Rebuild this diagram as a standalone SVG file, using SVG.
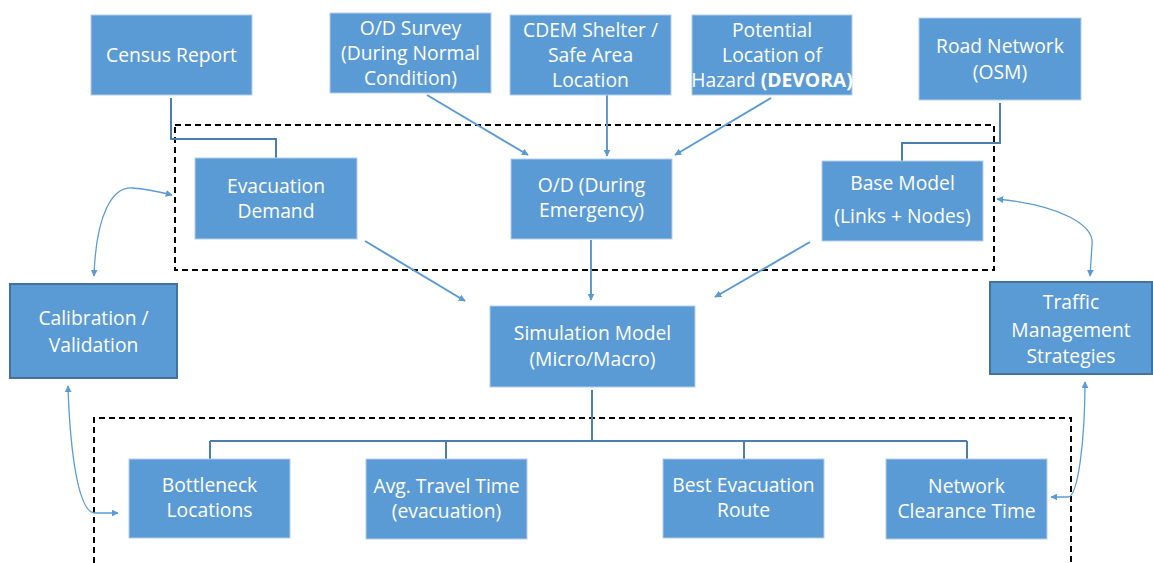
<svg xmlns="http://www.w3.org/2000/svg" width="1153" height="563" viewBox="0 0 1153 563">
<defs>
<style>
.box{fill:#5B9BD5;stroke:#B4CDEA;stroke-width:1}
.box2{fill:#5B9BD5;stroke:#41719C;stroke-width:2}
text{font-family:"Open Sans","Liberation Sans",sans-serif;font-size:19.3px;fill:#FFFFFF;text-anchor:middle}
.dash{fill:none;stroke:#000;stroke-width:2;stroke-dasharray:6 4}
.elb{fill:none;stroke:#4A7EB0;stroke-width:2}
.arr{fill:none;stroke:#5B9BD5;stroke-width:2;marker-end:url(#ah)}
.cur{fill:none;stroke:#5B9BD5;stroke-width:1.3;marker-start:url(#ahs);marker-end:url(#ah)}
</style>
<marker id="ah" viewBox="0 0 10 10" refX="9" refY="5" markerWidth="7" markerHeight="7" markerUnits="userSpaceOnUse" orient="auto"><path d="M0,0 L10,5 L0,10 z" fill="#5B9BD5"/></marker>
<marker id="ahs" viewBox="0 0 10 10" refX="1" refY="5" markerWidth="7" markerHeight="7" markerUnits="userSpaceOnUse" orient="auto"><path d="M10,0 L0,5 L10,10 z" fill="#5B9BD5"/></marker>
</defs>
<rect width="1153" height="563" fill="#FFFFFF"/>
<g id="groups">
<rect class="dash" x="175" y="125" width="819" height="145"/>
<path class="dash" d="M94,563 L94,418 L1071,418 L1071,563"/>
</g>
<g id="connectors">
<path class="elb" d="M171,98 L171,139 L276,139 L276,158"/>
<path class="elb" d="M1000,103 L1000,143 L902,143 L902,161"/>
<path class="elb" d="M592,390 L592,441 M210,441 L967,441 M210,441 L210,459 M446,441 L446,459 M744,441 L744,459 M967,441 L967,459"/>
<path class="arr" d="M427,95 L528,155"/>
<path class="arr" d="M607,95 L607,156"/>
<path class="arr" d="M771,98 L675,155"/>
<path class="arr" d="M365,241 L465,301"/>
<path class="arr" d="M591,240 L591,300"/>
<path class="arr" d="M810,242 L715,297"/>
<path class="cur" d="M94,276 C96,215 112,187 132,188 C148,189 160,192 172,195"/>
<path class="cur" d="M68,386 C70,450 78,513 95,513 L118,513"/>
<path class="cur" d="M997,199 C1060,205 1095,225 1092,245 L1090,276"/>
<path class="cur" d="M1085,382 C1085,440 1078,497 1068,497 L1051,497"/>
</g>
<g id="census"><rect class="box" x="91" y="15" width="161" height="80"/><text x="171.5" y="62">Census Report</text></g>
<g id="odsurvey"><rect class="box" x="330" y="13" width="161" height="80"/><text x="410.5" y="35">O/D Survey</text><text x="410.5" y="60">(During Normal</text><text x="410.5" y="85">Condition)</text></g>
<g id="cdem"><rect class="box" x="510" y="15" width="161" height="80"/><text x="590.5" y="37">CDEM Shelter /</text><text x="590.5" y="62">Safe Area</text><text x="590.5" y="87">Location</text></g>
<g id="hazard"><rect class="box" x="692" y="15" width="160" height="80"/><text x="772" y="37">Potential</text><text x="772" y="62">Location of</text><text x="772" y="87">Hazard <tspan font-weight="bold">(DEVORA)</tspan></text></g>
<g id="road"><rect class="box" x="919" y="18" width="162" height="82"/><text x="1000" y="53">Road Network</text><text x="1000" y="79">(OSM)</text></g>
<g id="evacdemand"><rect class="box" x="195" y="158" width="162" height="81"/><text x="276" y="193">Evacuation</text><text x="276" y="218">Demand</text></g>
<g id="odemergency"><rect class="box" x="511" y="159" width="161" height="80"/><text x="591.5" y="192">O/D (During</text><text x="591.5" y="217">Emergency)</text></g>
<g id="basemodel"><rect class="box" x="822" y="161" width="161" height="80"/><text x="902.5" y="190">Base Model</text><text x="902.5" y="223">(Links + Nodes)</text></g>
<g id="calibration"><rect class="box2" x="10" y="284" width="167" height="94"/><text x="93.5" y="325">Calibration /</text><text x="93.5" y="352">Validation</text></g>
<g id="simulation"><rect class="box" x="490" y="306" width="205" height="81"/><text x="592.5" y="340">Simulation Model</text><text x="592.5" y="366">(Micro/Macro)</text></g>
<g id="traffic"><rect class="box2" x="990" y="282" width="162" height="92"/><text x="1071" y="309">Traffic</text><text x="1071" y="337">Management</text><text x="1071" y="363">Strategies</text></g>
<g id="bottleneck"><rect class="box" x="129" y="459" width="161" height="79"/><text x="209.5" y="492">Bottleneck</text><text x="209.5" y="517">Locations</text></g>
<g id="avgtravel"><rect class="box" x="366" y="459" width="161" height="80"/><text x="446.5" y="493">Avg. Travel Time</text><text x="446.5" y="518">(evacuation)</text></g>
<g id="bestroute"><rect class="box" x="663" y="459" width="161" height="79"/><text x="743.5" y="492">Best Evacuation</text><text x="743.5" y="517">Route</text></g>
<g id="clearance"><rect class="box" x="886" y="459" width="161" height="80"/><text x="966.5" y="493">Network</text><text x="966.5" y="518">Clearance Time</text></g>
</svg>
